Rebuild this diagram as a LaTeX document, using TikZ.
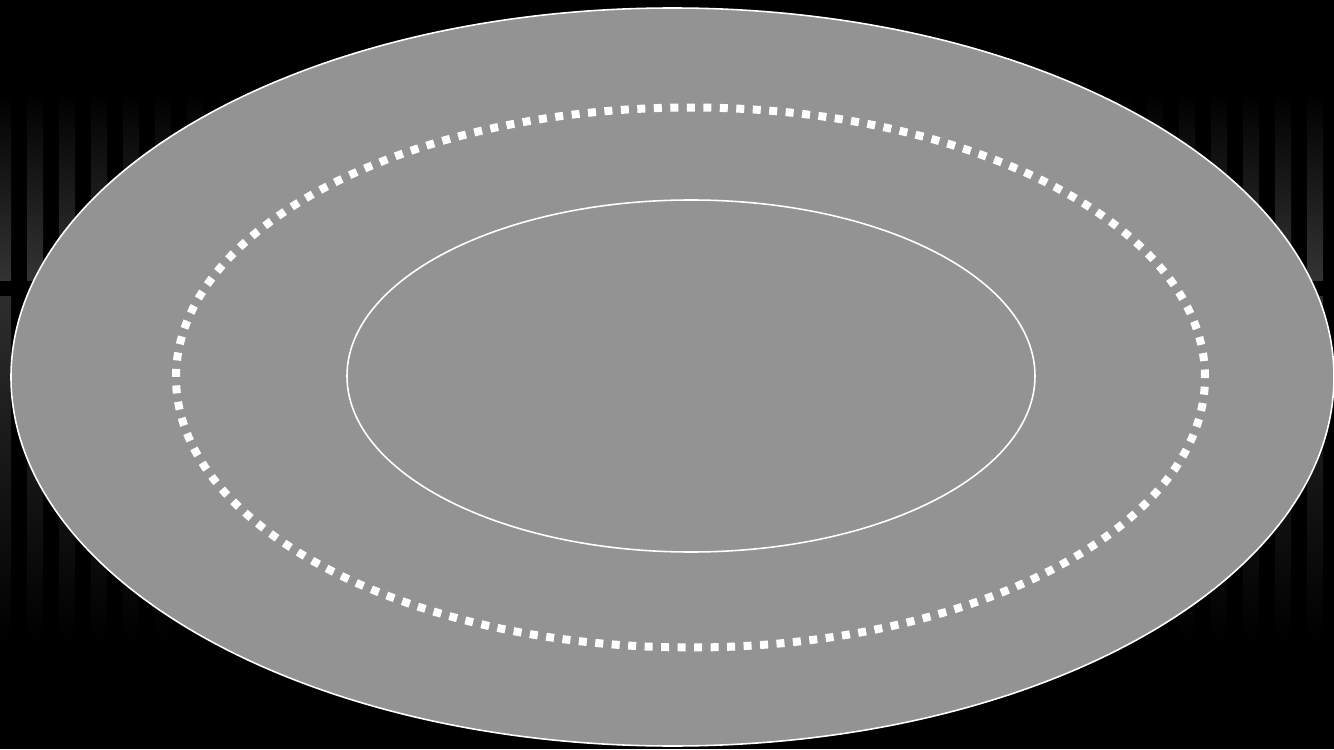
\documentclass[tikz,border=0pt]{standalone}
\usepackage{tikz}
\usetikzlibrary{calc}

\definecolor{platter}{HTML}{939393}
\definecolor{stripetop}{HTML}{333333}
\definecolor{stripelow}{HTML}{2D2D2D}

\begin{document}
\begin{tikzpicture}[x=0.1mm, y=0.1mm,
    rim/.style={draw=white, line width=0.45pt},
    dotring/.style={draw=white, line width=0.8mm, dash pattern=on 0.8mm off 0.85mm},
]
  % background
  \fill[black] (0,0) rectangle (1334,749);
  \useasboundingbox (0,0) rectangle (1334,749);

  % vertical stripes, upper and lower bands
  \foreach \k in {0,...,41} {
    \shade[top color=black, bottom color=stripetop] ({-5+32*\k},656) rectangle ({11+32*\k},469);
    \shade[top color=stripelow, bottom color=black] ({-5+32*\k},453) rectangle ({11+32*\k},108);
  }

  % outer plate
  \fill[platter] (672.5,372) ellipse [x radius=661.5, y radius=369];
  \draw[rim] (672.5,372) ellipse [x radius=661.5, y radius=369];

  % dotted ring
  \draw[dotring] (690.5,371.5) ellipse [x radius=514.5, y radius=270];

  % inner ring
  \draw[rim] (691,373) ellipse [x radius=344, y radius=176];
\end{tikzpicture}
\end{document}
